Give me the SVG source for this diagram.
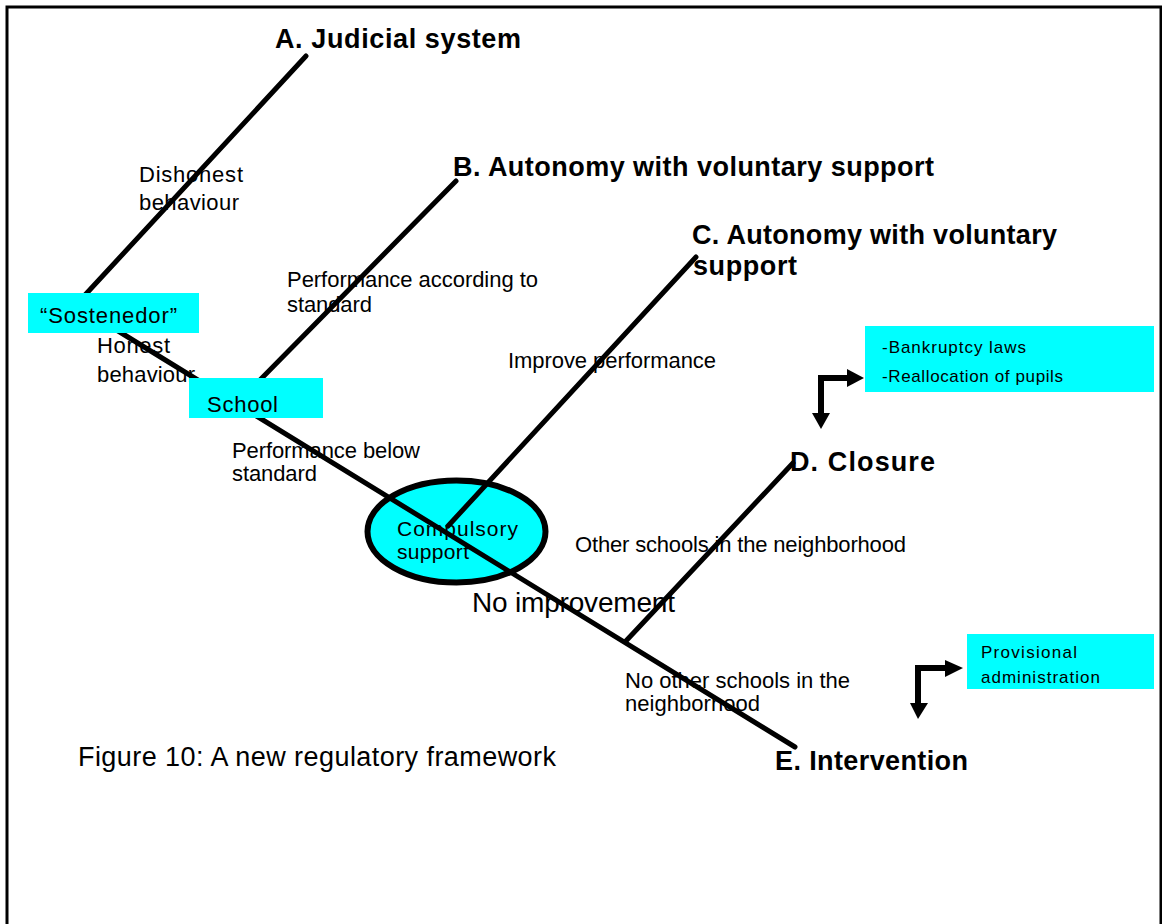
<svg xmlns="http://www.w3.org/2000/svg" width="1162" height="924" viewBox="0 0 1162 924">
<style>
text{font-family:"Liberation Sans",Arial,sans-serif;fill:#000}
.h{font-size:27px;font-weight:bold}
.l{font-size:22px}
.s{font-size:17px}
.box{fill:#00FFFF}
.ln{stroke:#000;stroke-width:5;stroke-linecap:round;fill:none}
</style>
<rect width="1162" height="924" fill="#fff"/>
<path d="M7,930 V7 H1161 V930" fill="none" stroke="#000" stroke-width="3"/>

<g id="labels">
<text class="l" x="139" y="182" textLength="104">Dishonest</text>
<text class="l" x="139" y="210" textLength="100">behaviour</text>
<text class="l" x="287" y="287" textLength="251">Performance according to</text>
<text class="l" x="287" y="312" textLength="85">standard</text>
<text class="l" x="97" y="353" textLength="73">Honest</text>
<text class="l" x="97" y="382" textLength="98">behaviour</text>
<text class="l" x="232" y="458" textLength="188">Performance below</text>
<text class="l" x="232" y="481" textLength="85">standard</text>
<text class="l" x="508" y="368" textLength="208">Improve performance</text>
<text class="l" x="575" y="552" textLength="331">Other schools in the neighborhood</text>
<text x="472" y="612" font-size="28" textLength="203">No improvement</text>
<text class="l" x="625" y="688" textLength="225">No other schools in the</text>
<text class="l" x="625" y="711" textLength="135">neighborhood</text>
<text x="78" y="766" font-size="27" textLength="478">Figure 10: A new regulatory framework</text>
</g>

<g id="node-A"><text class="h" x="275" y="48" textLength="246">A. Judicial system</text></g>
<g id="node-B"><text class="h" x="453" y="176" textLength="481">B. Autonomy with voluntary support</text></g>
<g id="node-C"><text class="h" x="692" y="244" textLength="365">C. Autonomy with voluntary</text><text class="h" x="693" y="275" textLength="104">support</text></g>
<g id="node-D"><text class="h" x="790" y="471" textLength="145">D. Closure</text></g>
<g id="node-E"><text class="h" x="775" y="770" textLength="193">E. Intervention</text></g>

<g id="node-compulsory">
<ellipse cx="456.5" cy="531.5" rx="89" ry="51" class="box" stroke="#000" stroke-width="6"/>
<text x="397" y="536" font-size="21" textLength="121">Compulsory</text>
<text x="397" y="559" font-size="21" textLength="72">support</text>
</g>

<g id="connectors">
<line class="ln" x1="306" y1="56" x2="85" y2="295"/>
<line class="ln" x1="456" y1="181" x2="255" y2="385"/>
<line class="ln" x1="696" y1="257" x2="448" y2="526"/>
<line class="ln" x1="793" y1="463" x2="625" y2="642"/>
<line class="ln" x1="110" y1="326" x2="795" y2="747"/>
<path d="M821,414 V378 H848" fill="none" stroke="#000" stroke-width="6"/>
<polygon points="812,413 830,413 821,429"/>
<polygon points="847,369 847,387 864,378"/>
<path d="M918,704 V668 H946" fill="none" stroke="#000" stroke-width="6"/>
<polygon points="910,703 928,703 918,719"/>
<polygon points="945,660 945,677 963,668"/>
</g>

<g id="node-sostenedor">
<rect class="box" x="28" y="293" width="171" height="40"/>
<text class="l" x="40" y="323" textLength="137">“Sostenedor”</text>
</g>
<g id="node-school">
<rect class="box" x="189" y="378" width="134" height="40"/>
<text class="l" x="207" y="412" textLength="71">School</text>
</g>
<g id="node-closure-notes">
<rect class="box" x="865" y="326" width="289" height="66"/>
<text class="s" x="882" y="353" textLength="144">-Bankruptcy laws</text>
<text class="s" x="882" y="382" textLength="181">-Reallocation of pupils</text>
</g>
<g id="node-intervention-notes">
<rect class="box" x="967" y="634" width="187" height="55"/>
<text class="s" x="981" y="658" textLength="96">Provisional</text>
<text class="s" x="981" y="683" textLength="119">administration</text>
</g>
</svg>
